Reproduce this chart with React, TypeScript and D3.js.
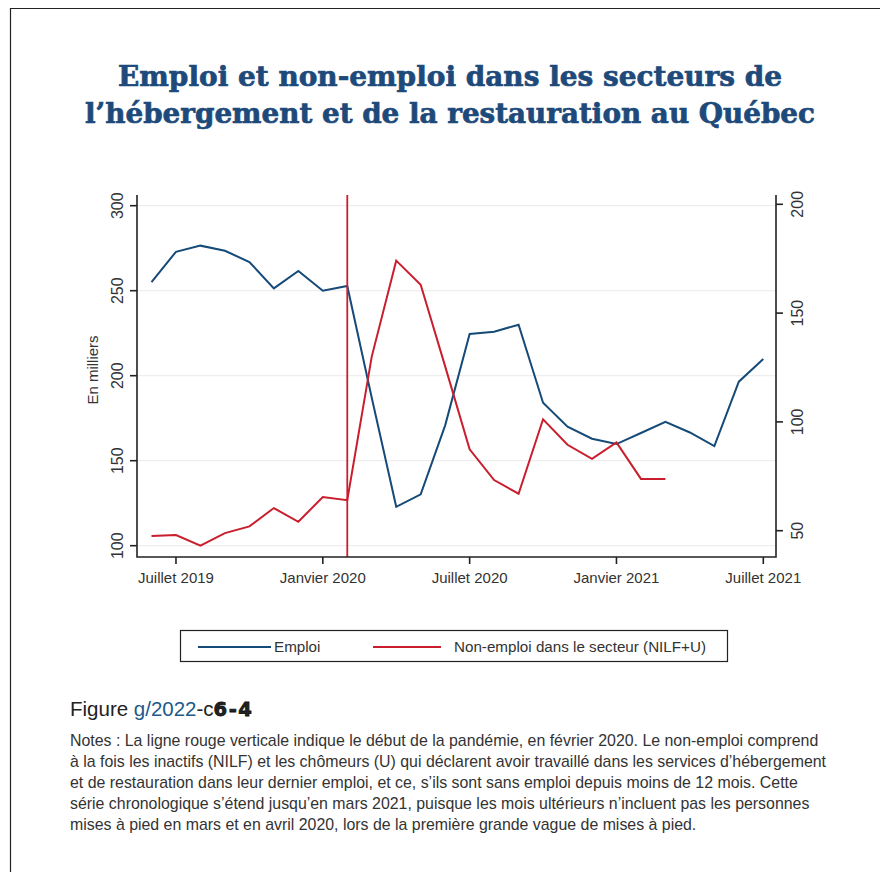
import React from "react";
import * as d3 from "d3";

const months = ["2019-06","2019-07","2019-08","2019-09","2019-10","2019-11","2019-12","2020-01","2020-02","2020-03","2020-04","2020-05","2020-06","2020-07","2020-08","2020-09","2020-10","2020-11","2020-12","2021-01","2021-02","2021-03","2021-04","2021-05","2021-06","2021-07"];
const emploi = [255.1, 272.9, 276.5, 273.5, 266.9, 251.4, 261.6, 250.0, 252.8, 187.0, 122.9, 130.2, 170.8, 224.5, 225.9, 230.0, 184.1, 170.0, 162.9, 159.8, 166.3, 172.9, 166.6, 158.6, 196.5, 209.8];
const nonEmploi = [47.6, 48.0, 43.1, 48.9, 52.0, 60.4, 54.1, 65.5, 64.0, 130.0, 174.1, 163.0, 125.5, 87.4, 73.3, 67.0, 101.2, 89.5, 83.0, 90.6, 73.8, 73.8];
const xTickMonths = ["2019-07", "2020-01", "2020-07", "2021-01", "2021-07"];
const xTickLabels = ["Juillet 2019", "Janvier 2020", "Juillet 2020", "Janvier 2021", "Juillet 2021"];
const leftTicks = [100, 150, 200, 250, 300];
const rightTicks = [50, 100, 150, 200];
const pandemicStart = "2020-02";

const titleLines = [
  "Emploi et non-emploi dans les secteurs de",
  "l\u2019hébergement et de la restauration au Québec",
];
const notesLines = [
  "Notes : La ligne rouge verticale indique le début de la pandémie, en février 2020. Le non-emploi comprend",
  "à la fois les inactifs (NILF) et les chômeurs (U) qui déclarent avoir travaillé dans les services d\u2019hébergement",
  "et de restauration dans leur dernier emploi, et ce, s\u2019ils sont sans emploi depuis moins de 12 mois. Cette",
  "série chronologique s\u2019étend jusqu\u2019en mars 2021, puisque les mois ultérieurs n\u2019incluent pas les personnes",
  "mises à pied en mars et en avril 2020, lors de la première grande vague de mises à pied.",
];

const BLUE = "#164a78";
const RED = "#c81e2d";
const TITLE = "#1d4a7a";

export default function App() {
  const idx = (m: string) => months.indexOf(m);
  const x = d3.scaleLinear().domain([0, 25]).range([151.5, 763.3]);
  const yL = d3.scaleLinear().domain([100, 300]).range([545.7, 205.7]);
  const yR = d3.scaleLinear().domain([50, 200]).range([530.7, 204.3]);
  const left = 137, right = 776, top = 195, bottom = 557;

  const lineL = d3.line<number>().x((_, i) => x(i)).y((d) => yL(d));
  const lineR = d3.line<number>().x((_, i) => x(i)).y((d) => yR(d));
  const font = "'Liberation Sans', Arial, sans-serif";
  const px = x(idx(pandemicStart));

  return (
    <svg width={880} height={872} style={{ position: "absolute", left: 0, top: 0, background: "#fff" }} fontFamily={font}>
      <rect x={0} y={0} width={880} height={872} fill="#fff" />
      <path d="M10.5,872 L10.5,8.5 L880,8.5" fill="none" stroke="#222" strokeWidth={1.2} />
      {titleLines.map((t, i) => (
        <text key={i} x={450} y={86 + i * 37} textAnchor="middle" fontFamily="'DejaVu Serif', serif" fontWeight="bold" fontSize={28} fill={TITLE}
          stroke={TITLE} strokeWidth={0.7}
          textLength={i === 0 ? 664 : 730} lengthAdjust="spacingAndGlyphs">{t}</text>
      ))}
      {/* gridlines */}
      {leftTicks.map((t) => (
        <line key={t} x1={left} x2={right} y1={yL(t)} y2={yL(t)} stroke="#eeeeee" strokeWidth={1.2} />
      ))}
      {/* series */}
      <path d={lineL(emploi) || ""} fill="none" stroke={BLUE} strokeWidth={2} strokeLinejoin="miter" />
      <path d={lineR(nonEmploi) || ""} fill="none" stroke={RED} strokeWidth={2} strokeLinejoin="miter" />
      <line x1={px} x2={px} y1={top} y2={bottom} stroke={RED} strokeWidth={1.8} />
      {/* axes */}
      <path d={`M${left},${top} L${left},${bottom} L${right},${bottom} L${right},${top}`} fill="none" stroke="#222" strokeWidth={1.6} />
      {leftTicks.map((t) => (
        <g key={t}>
          <line x1={left - 7} x2={left} y1={yL(t)} y2={yL(t)} stroke="#222" strokeWidth={1.6} />
          <text transform={`translate(${123},${yL(t)}) rotate(-90)`} textAnchor="middle" fontSize={16} fill="#333">{t}</text>
        </g>
      ))}
      {rightTicks.map((t) => (
        <g key={t}>
          <line x1={right} x2={right + 7} y1={yR(t)} y2={yR(t)} stroke="#222" strokeWidth={1.6} />
          <text transform={`translate(${803},${yR(t)}) rotate(-90)`} textAnchor="middle" fontSize={16} fill="#333">{t}</text>
        </g>
      ))}
      {xTickMonths.map((m, i) => (
        <g key={m}>
          <line x1={x(idx(m))} x2={x(idx(m))} y1={bottom} y2={bottom + 7} stroke="#222" strokeWidth={1.6} />
          <text x={x(idx(m))} y={583} textAnchor="middle" fontSize={15} fill="#333">{xTickLabels[i]}</text>
        </g>
      ))}
      <text transform={`translate(98,${370}) rotate(-90)`} textAnchor="middle" fontSize={15} fill="#333">En milliers</text>
      {/* legend */}
      <rect x={180.5} y={630.5} width={547} height={31} fill="#fff" stroke="#222" strokeWidth={1.2} />
      <line x1={198} x2={271} y1={647} y2={647} stroke={BLUE} strokeWidth={2} />
      <text x={274} y={652} fontSize={15.2} fill="#333">Emploi</text>
      <line x1={373} x2={441} y1={647} y2={647} stroke={RED} strokeWidth={2} />
      <text x={454} y={652} fontSize={15.2} fill="#333">Non-emploi dans le secteur (NILF+U)</text>
      {/* figure caption */}
      <text x={70} y={716} fontSize={20.5} fill="#222">
        Figure <tspan fill="#1d5a8a">g/2022</tspan><tspan fill="#222">-c</tspan><tspan fontWeight="900" fontFamily="'DejaVu Sans', sans-serif" fontSize={19.5} stroke="#111" strokeWidth={0.8} letterSpacing={1.5}>6-4</tspan>
      </text>
      {notesLines.map((l, i) => (
        <text key={i} x={70} y={746 + i * 21} fontSize={15.9} fill="#333">{l}</text>
      ))}
    </svg>
  );
}
